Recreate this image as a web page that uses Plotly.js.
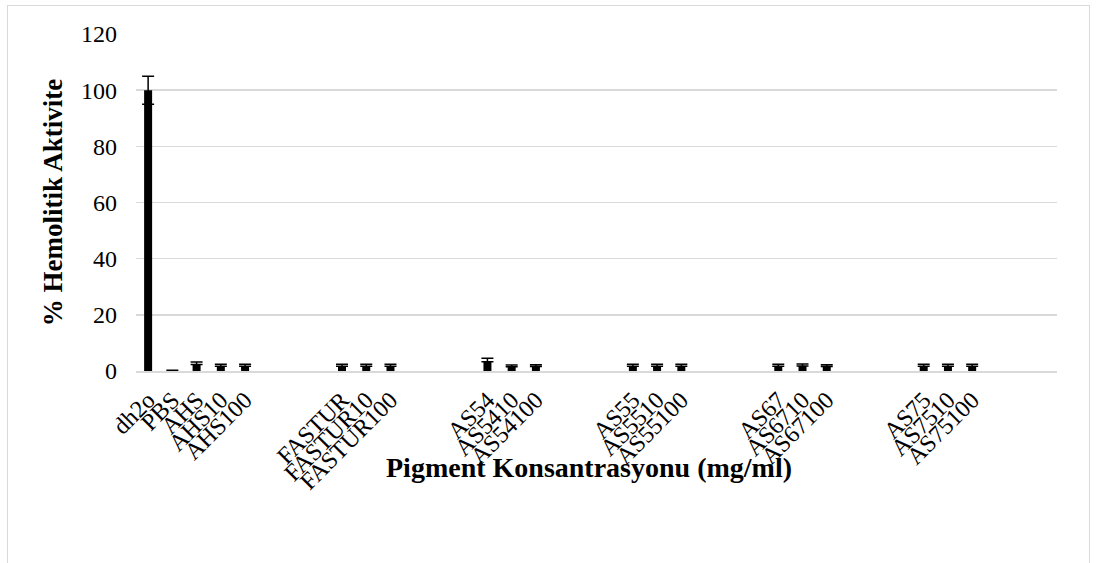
<!DOCTYPE html>
<html>
<head>
<meta charset="utf-8">
<script src="https://cdn.plot.ly/plotly-3.0.1.min.js"></script>
<style>
html,body{margin:0;padding:0;background:#fff;}
#frame{position:absolute;left:7px;top:5px;width:1083px;height:570px;border:1px solid #d9d9d9;box-sizing:border-box;}
#chart{position:absolute;left:0;top:0;width:1098px;height:563px;}
</style>
</head>
<body>
<div id="frame"></div>
<div id="chart"></div>
<script>
// Categories (blank entries are the empty slots between groups)
const categories = [
  'dh2o','PBS','AHS','AHS10','AHS100',' ','  ','   ',
  'FASTUR','FASTUR10','FASTUR100','    ','     ','      ',
  'AS54','AS5410','AS54100','       ','        ','         ',
  'AS55','AS5510','AS55100','          ','           ','            ',
  'AS67','AS6710','AS67100','             ','              ','               ',
  'AS75','AS7510','AS75100','                ','                 ','                  '
];
const values = [
  100, 0.3, 2.3, 1.7, 1.7, null, null, null,
  1.7, 1.7, 1.7, null, null, null,
  3.3, 1.5, 1.6, null, null, null,
  1.7, 1.7, 1.7, null, null, null,
  1.7, 1.8, 1.6, null, null, null,
  1.7, 1.7, 1.7, null, null, null
];
const errorsPlus = [
  5, 0, 0.9, 0.7, 0.7, null, null, null,
  0.7, 0.7, 0.7, null, null, null,
  1.2, 0.6, 0.6, null, null, null,
  0.7, 0.7, 0.7, null, null, null,
  0.7, 0.7, 0.6, null, null, null,
  0.7, 0.7, 0.7, null, null, null
];
const errorsMinus = [
  5, 0, 0, 0, 0, null, null, null,
  0, 0, 0, null, null, null,
  0, 0, 0, null, null, null,
  0, 0, 0, null, null, null,
  0, 0, 0, null, null, null,
  0, 0, 0, null, null, null
];
const yTicks = [0, 20, 40, 60, 80, 100, 120];

const SERIF = 'Liberation Serif';

const trace = {
  type: 'bar',
  x: categories,
  y: values,
  marker: {color: '#000000'},
  error_y: {type: 'data', symmetric: false, array: errorsPlus, arrayminus: errorsMinus,
            visible: true, color: '#000000', thickness: 1.5, width: 6},
  hoverinfo: 'x+y'
};

const layout = {
  width: 1098, height: 563,
  margin: {l: 136, r: 41, t: 34, b: 192},
  paper_bgcolor: 'rgba(0,0,0,0)',
  plot_bgcolor: 'rgba(0,0,0,0)',
  bargap: 0.67,
  showlegend: false,
  font: {family: SERIF, color: '#000', size: 22},
  xaxis: {
    type: 'category',
    categoryorder: 'array',
    categoryarray: categories,
    tickmode: 'array',
    tickvals: categories,
    ticktext: categories,
    tickangle: -45,
    tickfont: {size: 24, family: SERIF, color: '#000'},
    ticklabelstandoff: 4,
    showgrid: false,
    showline: true, linecolor: '#d9d9d9', linewidth: 1.5,
    ticks: '', zeroline: false
  },
  yaxis: {
    range: [0, 120],
    tickvals: yTicks,
    ticktext: yTicks.map(String),
    tickfont: {size: 24, family: SERIF, color: '#000'},
    showgrid: true, gridcolor: '#d9d9d9', gridwidth: 1.5,
    zeroline: false, showline: false, ticks: '',
    ticklabelstandoff: 18,
    title: {text: '% Hemolitik Aktivite', font: {size: 27, family: SERIF, color: '#000', weight: 'bold'}, standoff: 10}
  },
  annotations: [{
    xref: 'paper', yref: 'paper',
    x: 0.492, y: 0, yshift: -96,
    xanchor: 'center', yanchor: 'middle',
    showarrow: false,
    text: '<b>Pigment Konsantrasyonu (mg/ml)</b>',
    font: {size: 28, family: SERIF, color: '#000'}
  }]
};

Plotly.newPlot('chart', [trace], layout, {displayModeBar: false, staticPlot: true});
</script>
</body>
</html>
